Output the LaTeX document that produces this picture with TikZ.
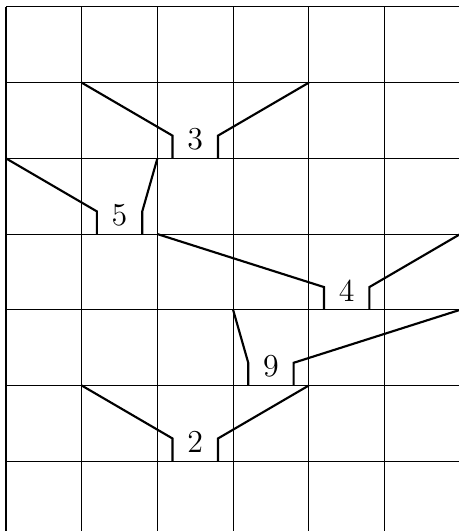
\documentclass[tikz,border=0pt]{standalone}
\usepackage{tikz}
\begin{document}
\begin{tikzpicture}[yscale=-1,font=\large,
    clue/.style={thick},
    num/.style={inner sep=0pt}]
  \clip (-0.079,-0.092) rectangle (5.984,6.922);
  \draw (0,0) grid (6,7);
  % clues: column, row, value, left end, right end
  \foreach \c/\r/\v/\lx/\ly/\rx/\ry [count=\i] in
      {2/1/3/1/1/4/1, 1/2/5/0/2/2/2, 4/3/4/2/3/6/3, 3/4/9/3/4/6/4, 2/5/2/1/5/4/5}{
    \node[num] (n\i) at (\c+0.5,\r+0.75) {\v};
    \coordinate (l\i) at (\lx,\ly);
    \coordinate (r\i) at (\rx,\ry);
    \draw[clue] (l\i) -- (\c+0.2,\r+0.7) -- (\c+0.2,\r+1);
    \draw[clue] (r\i) -- (\c+0.8,\r+0.7) -- (\c+0.8,\r+1);
  }
\end{tikzpicture}
\end{document}
